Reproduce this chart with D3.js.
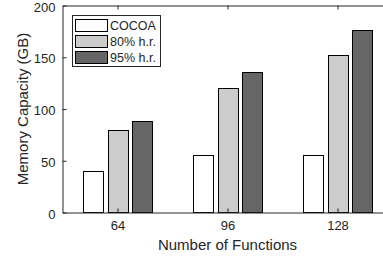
<!DOCTYPE html>
<html>
<head>
<meta charset="utf-8">
<script src="https://cdn.jsdelivr.net/npm/d3@7"></script>
<style>
  body { margin: 0; background: #fff; }
  svg { display: block; font-family: "Liberation Sans", Arial, sans-serif; }
</style>
</head>
<body>
<div id="chart"></div>
<script>
const categories = ["64", "96", "128"];
const seriesNames = ["COCOA", "80% h.r.", "95% h.r."];
const cocoa = [40, 56, 56];
const hr80 = [80, 120, 152];
const hr95 = [88, 136, 176];
const yTicks = [0, 50, 100, 150, 200];

const seriesValues = [cocoa, hr80, hr95];
const colors = ["#ffffff", "#cccccc", "#666666"];
const ink = "#262626";

const W = 383, H = 259;
const plotLeft = 62.5, plotTop = 5.5, plotBottom = 212.5, plotRight = 392.5;

const svg = d3.select("#chart").append("svg")
  .attr("width", W)
  .attr("height", H);

const x = d3.scaleLinear().domain([0.5, 3.5]).range([plotLeft, plotRight]);
const y = d3.scaleLinear().domain([0, 200]).range([plotBottom, plotTop]);

const inner = d3.scaleBand()
  .domain(seriesNames)
  .range([-36.75, 36.75])
  .paddingInner(0.2)
  .paddingOuter(0.1);

const rows = [];
categories.forEach((c, i) => {
  seriesNames.forEach((s, j) => {
    rows.push({ cat: i + 1, series: s, value: seriesValues[j][i], color: colors[j] });
  });
});

svg.append("g").selectAll("rect")
  .data(rows)
  .enter()
  .append("rect")
  .attr("x", d => Math.round(x(d.cat) + inner(d.series)) + 0.5)
  .attr("y", d => Math.round(y(d.value)) + 0.5)
  .attr("width", Math.round(inner.bandwidth()))
  .attr("height", d => plotBottom - (Math.round(y(d.value)) + 0.5))
  .attr("fill", d => d.color)
  .attr("stroke", "#000")
  .attr("stroke-width", 1);

// axes
const styleAxis = g => {
  g.select(".domain").attr("stroke", ink);
  g.selectAll(".tick line").attr("stroke", ink);
  g.selectAll(".tick text").attr("fill", ink).attr("font-size", 13)
    .attr("font-family", "Liberation Sans, Arial, sans-serif");
};

svg.append("g")
  .attr("transform", `translate(${plotLeft},0)`)
  .call(d3.axisLeft(y).tickValues(yTicks).tickSize(-4).tickPadding(7).tickSizeOuter(0))
  .call(styleAxis)
  .call(g => g.selectAll(".tick text").attr("y", 1.5));

svg.append("g")
  .attr("transform", `translate(0,${plotBottom})`)
  .call(d3.axisBottom(x).tickValues([1, 2, 3]).tickFormat(d => categories[d - 1])
    .tickSize(-4).tickPadding(8).tickSizeOuter(0))
  .call(styleAxis);

svg.append("g")
  .attr("transform", `translate(0,${plotTop})`)
  .call(d3.axisTop(x).tickValues([1, 2, 3]).tickFormat("").tickSize(-4).tickSizeOuter(0))
  .call(styleAxis);

svg.append("g")
  .attr("transform", `translate(${plotRight},0)`)
  .call(d3.axisRight(y).tickValues(yTicks).tickFormat("").tickSize(-4).tickSizeOuter(0))
  .call(styleAxis);

// axis labels
svg.append("text")
  .attr("x", (plotLeft + plotRight) / 2)
  .attr("y", 250)
  .attr("text-anchor", "middle")
  .attr("font-size", 15)
  .attr("fill", ink)
  .text("Number of Functions");

svg.append("text")
  .attr("transform", `translate(28,${(plotTop + plotBottom) / 2}) rotate(-90)`)
  .attr("text-anchor", "middle")
  .attr("font-size", 15)
  .attr("fill", ink)
  .text("Memory Capacity (GB)");

// legend
const legend = svg.append("g");
legend.append("rect")
  .attr("x", 72.5).attr("y", 15.5)
  .attr("width", 88).attr("height", 51)
  .attr("fill", "#fff")
  .attr("stroke", ink);

seriesNames.forEach((s, j) => {
  const ry = 18.5 + j * 16.2;
  legend.append("rect")
    .attr("x", 75.5).attr("y", Math.round(ry) + 0.5)
    .attr("width", 32).attr("height", 12)
    .attr("fill", colors[j])
    .attr("stroke", "#000");
  legend.append("text")
    .attr("x", 110)
    .attr("y", Math.round(ry) + 6.5)
    .attr("dy", "0.35em")
    .attr("font-size", 12.5)
    .attr("fill", ink)
    .text(s);
});
</script>
</body>
</html>
